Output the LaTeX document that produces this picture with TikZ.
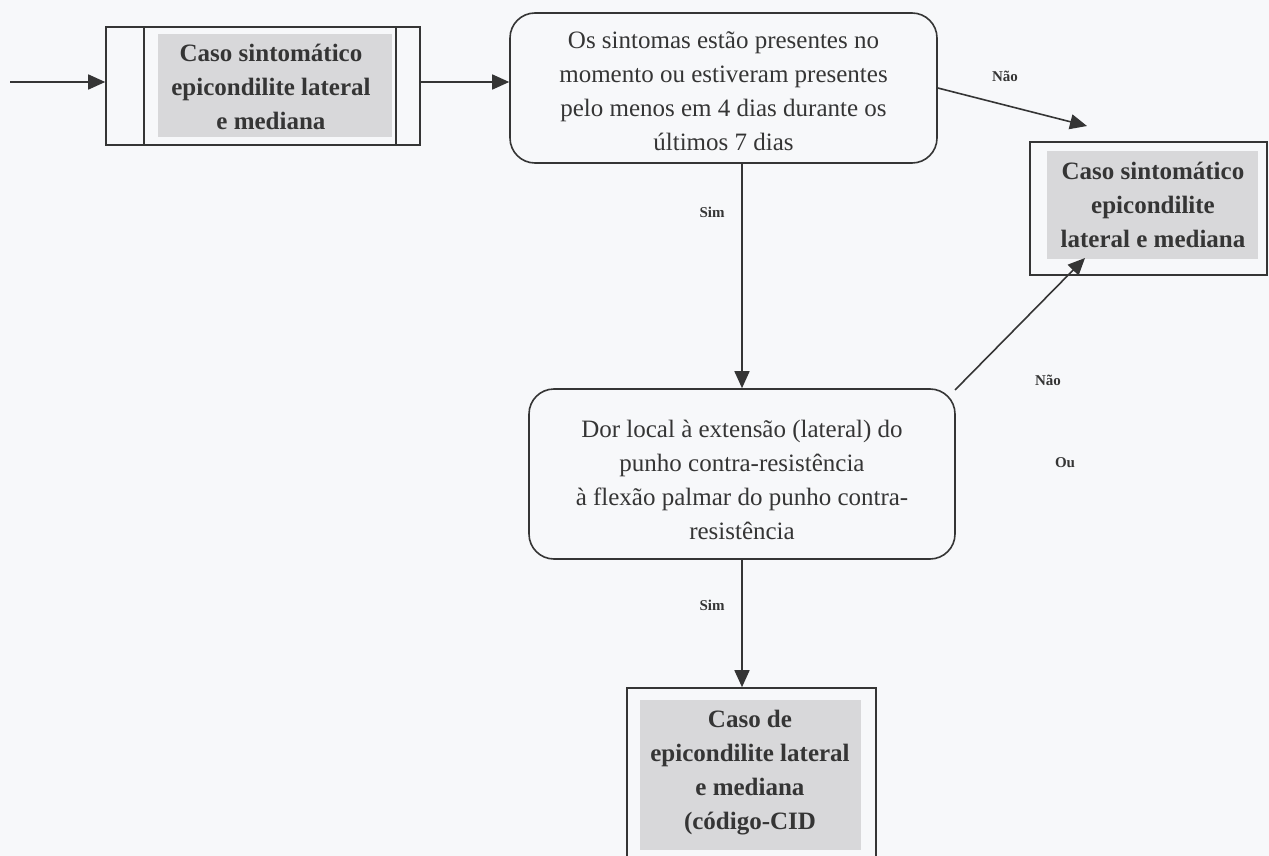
\documentclass[tikz,border=0pt]{standalone}
\usepackage{fontspec}
\setmainfont{Liberation Serif}
\usetikzlibrary{arrows.meta}
\definecolor{ink}{HTML}{353535}
\definecolor{paper}{HTML}{F7F8FA}
\definecolor{boxgray}{HTML}{D8D8DA}
\begin{document}
\begin{tikzpicture}[x=1pt,y=-1pt,
  every node/.style={text=ink},
  body/.style={font=\fontsize{25}{34}\selectfont, align=center},
  strong/.style={font=\fontsize{25}{34}\selectfont\bfseries, align=center},
  roundbox/.style={draw=ink, line width=1.6pt, rounded corners=25pt, inner sep=0pt},
  plainbox/.style={draw=ink, line width=1.6pt, inner sep=0pt},
  flow/.style={draw=ink, line width=1.6pt, -{Triangle[length=17pt,width=15pt]}},
  tag/.style={font=\fontsize{15}{17}\selectfont\bfseries}]
  \useasboundingbox (0,0) rectangle (1269,856);
  \clip (0,0) rectangle (1269,856);
  \fill[paper] (0,0) rectangle (1269,856);

  % grey panels behind the text of the square boxes
  \fill[boxgray] (158,34) rectangle (392,137);
  \fill[boxgray] (1047,151) rectangle (1258,259);
  \fill[boxgray] (640,700) rectangle (861,850);

  % start box (predefined process)
  \node[plainbox, minimum width=314pt, minimum height=118pt] (start) at (263,86) {};
  \draw[ink, line width=1.6pt] ([xshift=39pt]start.north west) -- ([xshift=39pt]start.south west);
  \draw[ink, line width=1.6pt] ([xshift=-25pt]start.north east) -- ([xshift=-25pt]start.south east);
  \node[strong] (starttext) at (271,87) {Caso sintomático\\epicondilite lateral\\e mediana};

  % first question
  \node[roundbox, minimum width=427pt, minimum height=150pt] (q1) at (723.5,88) {};
  \node[body] (q1text) at (723.5,91) {Os sintomas estão presentes no\\momento ou estiveram presentes\\pelo menos em 4 dias durante os\\últimos 7 dias};

  % symptomatic case (right)
  \node[plainbox, minimum width=237pt, minimum height=133pt] (symp) at (1148.5,208.5) {};
  \node[strong] (symptext) at (1153,205) {Caso sintomático\\epicondilite\\lateral e mediana};

  % second question
  \node[roundbox, minimum width=426pt, minimum height=170pt] (q2) at (742,474) {};
  \node[body] (q2text) at (742,480) {Dor local à extensão (lateral) do\\punho contra-resistência\\à flexão palmar do punho contra-\\resistência};

  % confirmed case
  \node[plainbox, minimum width=249pt, minimum height=170pt] (case) at (751.5,773) {};
  \node[strong] (casetext) at (750,773) {Caso de\\epicondilite lateral\\e mediana\\(código-CID};

  % connectors
  \coordinate (entry) at (10,82);
  \coordinate (toSymp) at (1087,126);
  \coordinate (fromQ2) at (955,390);
  \coordinate (intoSymp) at (1085,258);

  \draw[flow] (entry) -- (entry -| start.west);
  \draw[flow] (start.east |- entry) -- (entry -| q1.west);
  \draw[flow] (q1.east) -- (toSymp);
  \draw[flow] (q2.north |- q1.south) -- (q2.north);
  \draw[flow] (fromQ2) -- (intoSymp);
  \draw[flow] (q2.south) -- (q2.south |- case.north);

  % branch labels
  \node[tag] (no1) at (1005,76) {Não};
  \node[tag] (yes1) at (712,212) {Sim};
  \node[tag] (no2) at (1048,380) {Não};
  \node[tag] (or) at (1065,463) {Ou};
  \node[tag] (yes2) at (712,605) {Sim};
\end{tikzpicture}
\end{document}
